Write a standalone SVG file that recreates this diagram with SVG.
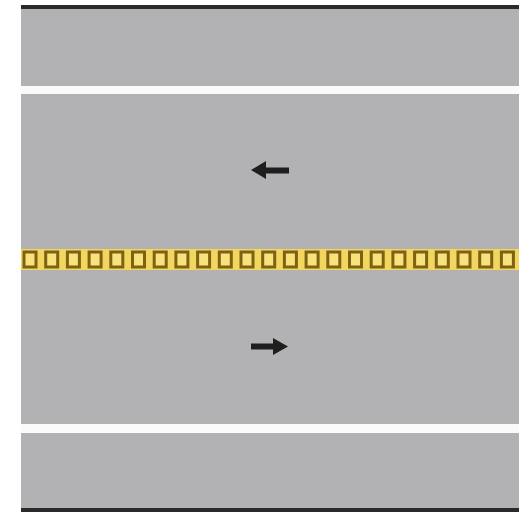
<svg xmlns="http://www.w3.org/2000/svg" width="525" height="512" viewBox="0 0 525 512">
<defs>
<style>
.road{fill:#b2b2b5}
.lane{fill:#fafafa}
.edge{fill:#2a2a2a}
.band{fill:#f3d660}
.sq{fill:#f7e27e;stroke:#7d6212;stroke-width:3}
.arr{fill:#1e1e1e}
</style>
<rect id="sq" class="sq" x="0" y="0" width="12" height="15"/>
</defs>
<rect width="525" height="512" fill="#ffffff"/>
<g id="road">
<rect class="edge" x="21" y="5" width="498" height="4"/>
<rect class="road" x="21" y="9" width="498" height="77"/>
<rect class="lane" x="21" y="86" width="498" height="8"/>
<rect class="road" x="21" y="94" width="498" height="330"/>
<rect class="lane" x="21" y="424" width="498" height="9"/>
<rect class="road" x="21" y="433" width="498" height="75"/>
<rect class="edge" x="21" y="508" width="498" height="4"/>
</g>
<g id="centerline">
<rect class="band" x="21" y="249" width="498" height="21"/>
<use href="#sq" x="24" y="252"/>
<use href="#sq" x="45.7" y="252"/>
<use href="#sq" x="67.4" y="252"/>
<use href="#sq" x="89.1" y="252"/>
<use href="#sq" x="110.8" y="252"/>
<use href="#sq" x="132.5" y="252"/>
<use href="#sq" x="154.2" y="252"/>
<use href="#sq" x="175.9" y="252"/>
<use href="#sq" x="197.6" y="252"/>
<use href="#sq" x="219.3" y="252"/>
<use href="#sq" x="241" y="252"/>
<use href="#sq" x="262.7" y="252"/>
<use href="#sq" x="284.4" y="252"/>
<use href="#sq" x="306.1" y="252"/>
<use href="#sq" x="327.8" y="252"/>
<use href="#sq" x="349.5" y="252"/>
<use href="#sq" x="371.2" y="252"/>
<use href="#sq" x="392.9" y="252"/>
<use href="#sq" x="414.6" y="252"/>
<use href="#sq" x="436.3" y="252"/>
<use href="#sq" x="458" y="252"/>
<use href="#sq" x="479.7" y="252"/>
<use href="#sq" x="501.4" y="252"/>
</g>
<g id="arrow-left">
<polygon class="arr" points="251,170 266,161 266,167.5 289,167.5 289,173.5 266,173.5 266,179"/>
</g>
<g id="arrow-right">
<polygon class="arr" points="288,346.5 273,338 273,343.5 251,343.5 251,349.5 273,349.5 273,355"/>
</g>
</svg>
